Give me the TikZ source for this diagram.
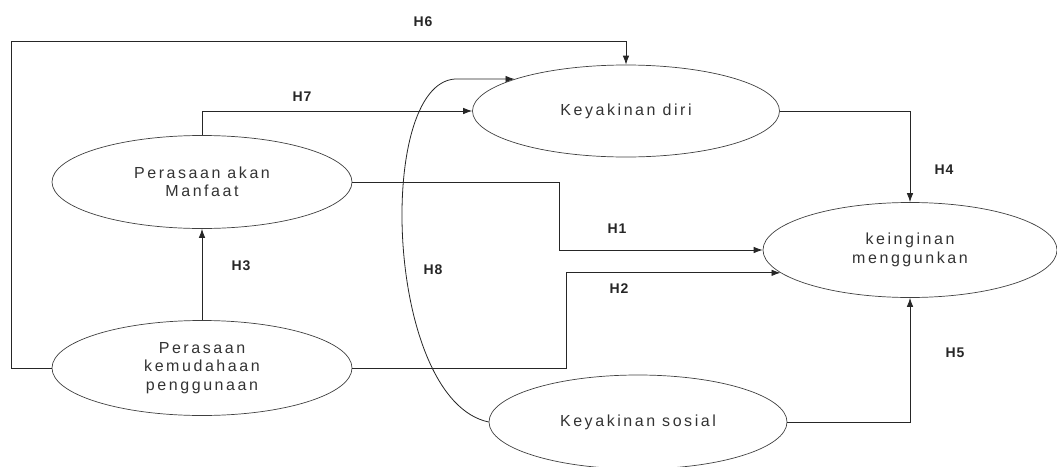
\documentclass[tikz,border=0pt]{standalone}
\usepackage{fontspec}
\setmainfont{Liberation Sans}[LetterSpace=16]
\newfontfamily\hfont{Liberation Sans}[LetterSpace=6]
\usetikzlibrary{shapes.geometric,arrows.meta}

\tikzset{
  konstruk/.style={draw=black!75,line width=0.7pt,ellipse,inner sep=0pt,
    minimum width=300pt,minimum height=94pt,align=center,text=black!80,
    font=\fontsize{16}{18.5}\selectfont},
  jalur/.style={draw=black!85,line width=0.8pt,-{Latex[length=9pt,width=6.5pt]}},
  hipo/.style={font=\hfont\bfseries\fontsize{14}{16}\selectfont,text=black!85}
}

\begin{document}
\begin{tikzpicture}[x=1pt,y=-1pt]
  \useasboundingbox (0,0) rectangle (1057,466);

  \draw (626,111) node[konstruk,minimum width=307pt,minimum height=92pt] (diri) {Keyakinan diri};
  \draw (202,182) node[konstruk,minimum height=93pt] (manfaat) {Perasaan akan\\Manfaat};
  \draw (202,368) node[konstruk,minimum height=95pt] (mudah) {Perasaan\\kemudahaan\\penggunaan};
  \draw (910,250) node[konstruk,minimum width=294pt,minimum height=95pt] (ingin) {keinginan\\menggunkan};
  \draw (638,422) node[konstruk,minimum width=298pt] (sosial) {Keyakinan sosial};

  \draw[jalur] (manfaat.east) -- ++(207,0) |- (ingin.west);
  \draw[jalur] (mudah.east) -- ++(214,0) |- (ingin.190);
  \draw[jalur] (mudah.north) -- (manfaat.south);
  \draw[jalur] (diri.east) -| (ingin.north);
  \draw[jalur] (sosial.east) -| (ingin.south);
  \draw[jalur] (mudah.west) -- ++(-40,0) -- ++(0,-327) -| (diri.north);
  \draw[jalur] (manfaat.north) |- (diri.west);
  \draw[jalur] (sosial.west) .. controls (385,400) and (375,84) .. (455,79) -- (diri.164);

  \draw (617,229) node[hipo] (h1) {H1};
  \draw (619,289) node[hipo] (h2) {H2};
  \draw (241,266) node[hipo] (h3) {H3};
  \draw (944,170) node[hipo] (h4) {H4};
  \draw (955,353) node[hipo] (h5) {H5};
  \draw (423,22) node[hipo] (h6) {H6};
  \draw (302,97) node[hipo] (h7) {H7};
  \draw (433,270) node[hipo] (h8) {H8};

\end{tikzpicture}
\end{document}
